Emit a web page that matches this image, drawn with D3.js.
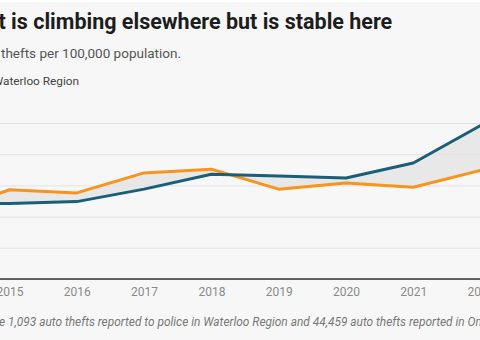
<!DOCTYPE html>
<html>
<head>
<meta charset="utf-8">
<script src="https://cdn.jsdelivr.net/npm/d3@7"></script>
<style>
  html, body { margin: 0; padding: 0; background: #f7f7f7; overflow: hidden; }
  svg { display: block; font-family: Roboto, "Noto Sans", sans-serif; }
</style>
</head>
<body>
<div id="chart"></div>
<script>
// auto thefts per 100,000 population
const years = [2014, 2015, 2016, 2017, 2018, 2019, 2020, 2021, 2022];
const ontario = [122, 121, 124, 144, 168, 165, 162, 186, 246];
const waterloo = [104, 143, 138, 170, 176, 144, 154, 147, 174];
const yTicks = [0, 50, 100, 150, 200, 250];
const xTicks = [2015, 2016, 2017, 2018, 2019, 2020, 2021, 2022];

const title = "Auto theft is climbing elsewhere but is stable here";
const subtitle = "Auto thefts per 100,000 population.";
const note = "In 2022, there were 1,093 auto thefts reported to police in Waterloo Region and 44,459 auto thefts reported in Ontario.";

const main = function() {
  const width = 480, height = 340;
  const rows = years.map((y, i) => ({ year: y, on: ontario[i], wr: waterloo[i] }));

  const svg = d3.select("#chart")
    .append("svg")
    .attr("width", width)
    .attr("height", height);

  svg.append("rect")
    .attr("width", width)
    .attr("height", height)
    .attr("fill", "#f7f7f7");
  svg.append("rect")
    .attr("width", width)
    .attr("height", 2)
    .attr("fill", "#ffffff");

  // places a text so that the character at `idx` starts at x
  const placeFrom = function(sel, idx, x) {
    const node = sel.node();
    const off = idx > 0 ? node.getSubStringLength(0, idx) : 0;
    sel.attr("x", x - off);
  };

  const t = svg.append("text")
    .attr("y", 29)
    .attr("font-size", 21.5)
    .attr("font-weight", 700)
    .attr("fill", "#1d1d1d")
    .text(title);
  placeFrom(t, title.indexOf("t is"), -1.5);

  const st = svg.append("text")
    .attr("y", 58)
    .attr("font-size", 13.5)
    .attr("fill", "#555")
    .text(subtitle);
  placeFrom(st, subtitle.indexOf("thefts"), 1);

  // legend (marker sits left of the label)
  const lg = svg.append("g");
  const lt = lg.append("text")
    .attr("y", 85)
    .attr("font-size", 11.8)
    .attr("fill", "#444")
    .text("Waterloo Region");
  placeFrom(lt, 1, 3);
  lg.append("rect")
    .attr("x", +lt.attr("x") - 22)
    .attr("y", 79)
    .attr("width", 16)
    .attr("height", 3)
    .attr("fill", "#f7941d");

  const x = d3.scaleLinear()
    .domain([2015, 2022])
    .range([9.5, 480.6]);
  const y = d3.scaleLinear()
    .domain([0, 250])
    .range([279, 123]);

  // gridlines
  const grid = svg.append("g")
    .call(d3.axisLeft(y).tickValues(yTicks).tickSize(-width - 80).tickPadding(8))
    .attr("transform", "translate(-40,0)");
  grid.select(".domain").remove();
  grid.selectAll("line").attr("stroke", "#e2e2e2").attr("stroke-width", 1);
  grid.selectAll("text").attr("fill", "#888").attr("font-size", 12);

  // shaded gap between the two series
  const area = d3.area()
    .x(d => x(d.year))
    .y0(d => y(d.on))
    .y1(d => y(d.wr));
  svg.append("path")
    .datum(rows)
    .attr("d", area)
    .attr("fill", "#e3e3e3")
    .attr("opacity", 0.8);

  // baseline axis
  const xa = svg.append("g")
    .attr("transform", "translate(0," + y(0) + ")")
    .call(d3.axisBottom(x).tickValues(xTicks).tickFormat(d3.format("d")).tickSize(0).tickPadding(8));
  xa.select(".domain").remove();
  xa.selectAll("text")
    .attr("fill", "#8a8a8a")
    .attr("font-size", 12)
    .attr("font-family", "Roboto, sans-serif");
  svg.append("line")
    .attr("x1", 0)
    .attr("x2", width)
    .attr("y1", y(0))
    .attr("y2", y(0))
    .attr("stroke", "#333")
    .attr("stroke-width", 1.5);

  const line = key => d3.line()
    .x(d => x(d.year))
    .y(d => y(d[key]));

  svg.append("path")
    .datum(rows)
    .attr("d", line("wr"))
    .attr("fill", "none")
    .attr("stroke", "#f7941d")
    .attr("stroke-width", 3)
    .attr("stroke-linejoin", "round");

  svg.append("path")
    .datum(rows)
    .attr("d", line("on"))
    .attr("fill", "none")
    .attr("stroke", "#1b5e78")
    .attr("stroke-width", 3)
    .attr("stroke-linejoin", "round");

  const nt = svg.append("text")
    .attr("y", 326)
    .attr("font-size", 11.9)
    .attr("font-style", "italic")
    .attr("fill", "#777")
    .text(note);
  placeFrom(nt, note.indexOf("e 1,093"), -1);
};

window.onload = main;
</script>
</body>
</html>
